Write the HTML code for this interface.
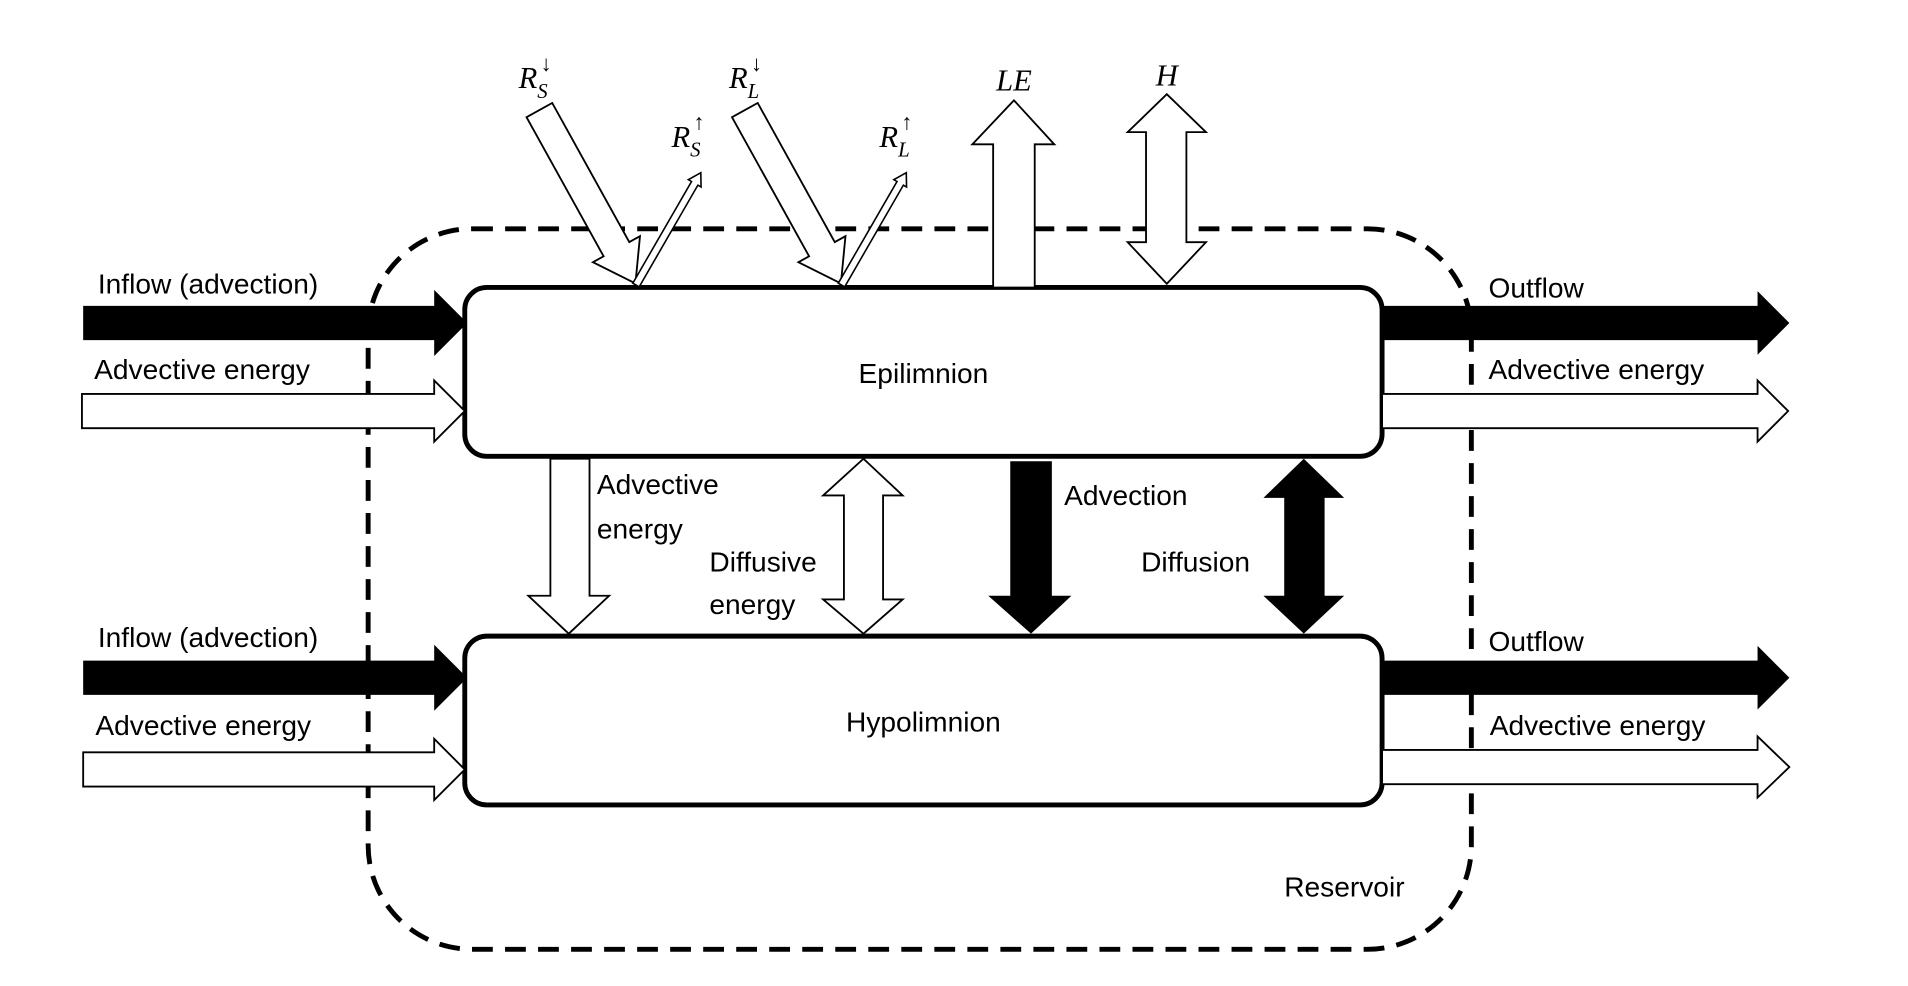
<!DOCTYPE html>
<html><head><meta charset="utf-8"><style>html,body{margin:0;padding:0;background:#fff}svg{display:block}</style></head>
<body>
<svg width="1908" height="986" viewBox="0 0 1560 806" preserveAspectRatio="none" xmlns="http://www.w3.org/2000/svg">
<g font-family="Liberation Sans, sans-serif" font-size="23" fill="#000">
<rect x="301" y="187" width="902" height="589" rx="85" ry="85" fill="none" stroke="#000" stroke-width="4" stroke-dasharray="17,10"/>
<rect x="380" y="235" width="750" height="138" rx="18" fill="#fff" stroke="#000" stroke-width="4"/>
<rect x="380" y="520" width="750" height="138" rx="18" fill="#fff" stroke="#000" stroke-width="4"/>
<text x="755" y="313" text-anchor="middle">Epilimnion</text>
<text x="755" y="598" text-anchor="middle">Hypolimnion</text>
<polygon points="68,250 355,250 355,237 382,264 355,291 355,278 68,278" fill="#000"/>
<polygon points="68,540 355,540 355,527 382,554 355,581 355,568 68,568" fill="#000"/>
<polygon points="67,322 355,322 355,311 380,336 355,361 355,350 67,350" fill="#fff" stroke="#000" stroke-width="1.5"/>
<polygon points="68,615 355,615 355,604 380,629 355,654 355,643 68,643" fill="#fff" stroke="#000" stroke-width="1.5"/>
<polygon points="1130,250 1437,250 1437,238 1463,264 1437,290 1437,278 1130,278" fill="#000"/>
<polygon points="1130,540 1437,540 1437,528 1463,554 1437,580 1437,568 1130,568" fill="#000"/>
<polygon points="1130,322 1437,322 1437,311 1462,336 1437,361 1437,350 1130,350" fill="#fff" stroke="#000" stroke-width="1.5"/>
<polygon points="1130,613 1437,613 1437,602 1463,627 1437,652 1437,641 1130,641" fill="#fff" stroke="#000" stroke-width="1.5"/>
<text x="80" y="240">Inflow (advection)</text>
<text x="77" y="310">Advective energy</text>
<text x="80" y="529">Inflow (advection)</text>
<text x="78" y="601">Advective energy</text>
<text x="1217" y="243">Outflow</text>
<text x="1217" y="310">Advective energy</text>
<text x="1217" y="532">Outflow</text>
<text x="1218" y="601">Advective energy</text>
<text x="1050" y="733">Reservoir</text>
<polygon points="450,375 482,375 482,487 498,487 465,518 432,487 450,487" fill="#fff" stroke="#000" stroke-width="1.5"/>
<polygon points="706,375 738,405 722,405 722,490 738,490 706,518 673,490 690,490 690,405 673,405" fill="#fff" stroke="#000" stroke-width="1.5"/>
<polygon points="826,377 860,377 860,487 876,487 843,518 808,487 826,487" fill="#000"/>
<polygon points="1066,375 1099,407 1083,407 1083,487 1099,487 1066,518 1033,487 1050,487 1050,407 1033,407" fill="#000"/>
<text x="488" y="404">Advective</text>
<text x="488" y="440">energy</text>
<text x="580" y="467">Diffusive</text>
<text x="580" y="502">energy</text>
<text x="870" y="413">Advection</text>
<text x="933" y="467">Diffusion</text>
<polygon points="812,235 812,118 795,118 829,82 862,118 846,118 846,235" fill="#fff" stroke="#000" stroke-width="1.5"/>
<polygon points="954,77 986,108 970,108 970,198 986,198 954,232 922,198 937,198 937,108 922,108" fill="#fff" stroke="#000" stroke-width="1.5"/>
<g transform="translate(441,90) rotate(-29)"><polygon points="-12,0 12,0 12,130 22,130 0,162 -22,130 -12,130" fill="#fff" stroke="#000" stroke-width="1.5"/></g>
<g transform="translate(609,90) rotate(-29)"><polygon points="-12,0 12,0 12,130 22,130 0,162 -22,130 -12,130" fill="#fff" stroke="#000" stroke-width="1.5"/></g>
<g transform="translate(520,233) rotate(30)"><polygon points="-3,0 -3,-96 -6,-96 0,-106 6,-96 3,-96 3,0" fill="#fff" stroke="#000" stroke-width="1.3"/></g>
<g transform="translate(688,233) rotate(30)"><polygon points="-3,0 -3,-96 -6,-96 0,-106 6,-96 3,-96 3,0" fill="#fff" stroke="#000" stroke-width="1.3"/></g>
<g font-family="Liberation Serif, serif" font-style="italic" font-size="25">
<text x="424" y="72">R<tspan font-size="17" dy="8">S</tspan></text><text x="442" y="58" font-size="18" font-style="normal">↓</text>
<text x="549" y="120">R<tspan font-size="17" dy="8">S</tspan></text><text x="567" y="106" font-size="18" font-style="normal">↑</text>
<text x="596" y="72">R<tspan font-size="17" dy="8">L</tspan></text><text x="614" y="58" font-size="18" font-style="normal">↓</text>
<text x="719" y="120">R<tspan font-size="17" dy="8">L</tspan></text><text x="737" y="106" font-size="18" font-style="normal">↑</text>
<text x="829" y="74" text-anchor="middle">LE</text>
<text x="954" y="70" text-anchor="middle">H</text>
</g>
</g>
</svg>
</body></html>
